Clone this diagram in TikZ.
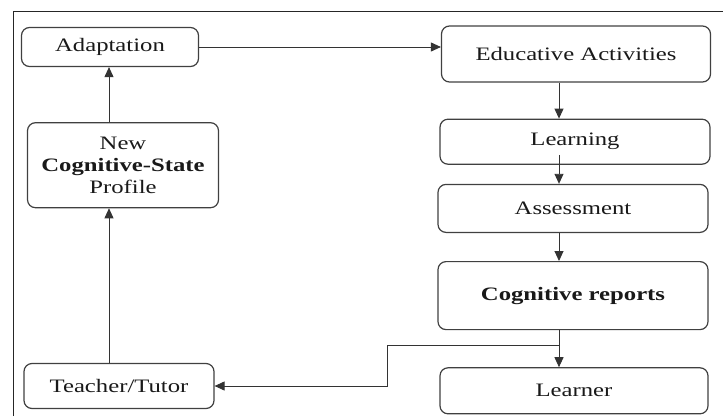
\documentclass[tikz,border=0pt]{standalone}
\usepackage{fontspec}
\setmainfont{Liberation Serif}[FakeStretch=1.3]
\usetikzlibrary{arrows.meta}
\usetikzlibrary{positioning}

\begin{document}
\begin{tikzpicture}[x=1pt, y=-1pt,
    box/.style={rectangle, rounded corners=8pt, draw=black!75, line width=1.2pt, text=black!90, align=center, font=\fontsize{19}{22}\selectfont},
    link/.style={draw=black!80, line width=0.9pt, -{Triangle[length=10pt, width=9pt]}}]
    \useasboundingbox (0,0) rectangle (723,416);
    \draw [black!85, line width=1pt] (13,416) -- (13,11) -- (723,11);

    % right column
    \node [box, minimum width=269pt, minimum height=56pt] (educ) at (576,54) {Educative Activities};
    \node [box, minimum width=270pt, minimum height=45pt, below=36pt of educ, xshift=-1pt] (learning) {Learning};
    \node [box, minimum width=270pt, minimum height=48pt, below=19pt of learning, xshift=-2pt] (assess) {Assessment};
    \node [box, minimum width=270pt, minimum height=68pt, below=28pt of assess] (cogrep) {\textbf{Cognitive reports}};
    \node [box, minimum width=268pt, minimum height=46pt, below=37pt of cogrep, xshift=1pt] (learner) {Learner};

    % left column
    \node [box, minimum width=177pt, minimum height=39pt] (adapt) at (110,47) {Adaptation};
    \node [box, minimum width=191pt, minimum height=85pt, below=55pt of adapt, xshift=13pt] (profile) {New\\\textbf{Cognitive-State}\\Profile};
    \node [box, minimum width=190pt, minimum height=45pt] (teacher) at (119,386) {Teacher/Tutor};

    \coordinate (rspine) at (559,0);
    \coordinate (lspine) at (109,0);
    \coordinate (split) at (559,345);
    \coordinate (bend) at (387,345);

    \draw [link] (adapt.east) -- (adapt.east -| educ.west);
    \draw [link] (educ.south -| rspine) -- (learning.north -| rspine);
    \draw [link] ([yshift=10pt]learning.south -| rspine) -- (assess.north -| rspine);
    \draw [link] (assess.south -| rspine) -- (cogrep.north -| rspine);
    \draw [link] (cogrep.south -| rspine) -- (learner.north -| rspine);
    \draw [link] (split) -- (bend) |- (teacher.east);
    \draw [link] (teacher.north -| lspine) -- (profile.south -| lspine);
    \draw [link] (profile.north -| lspine) -- (adapt.south -| lspine);
\end{tikzpicture}
\end{document}
